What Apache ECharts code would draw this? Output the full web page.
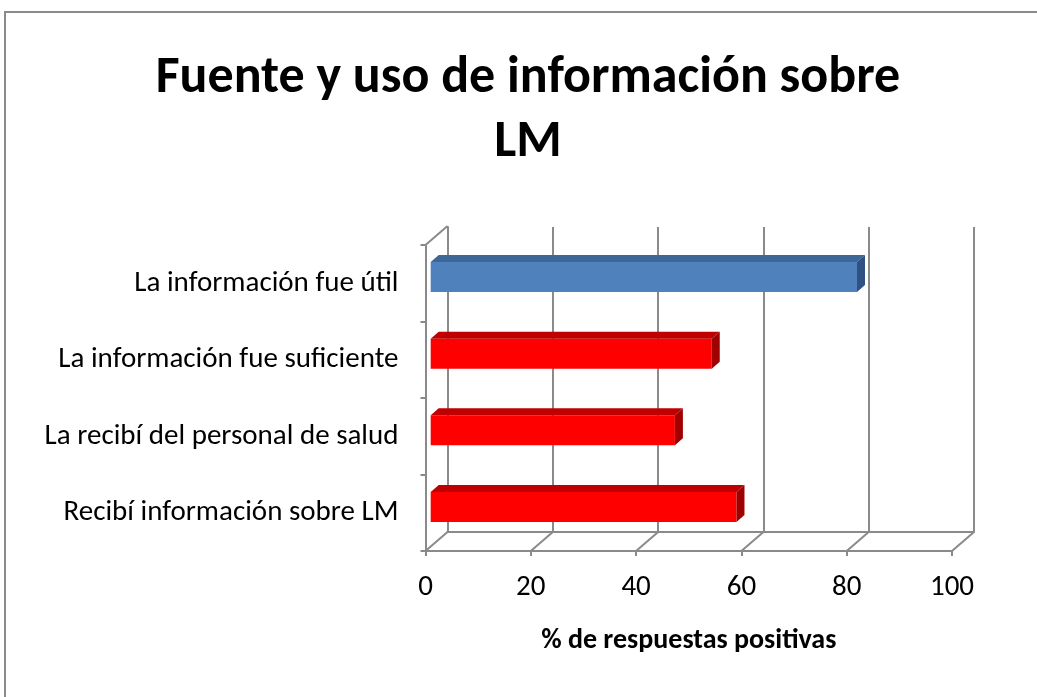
<!DOCTYPE html>
<html>
<head>
<meta charset="utf-8">
<title>Fuente y uso de información sobre LM</title>
<script src="https://cdn.jsdelivr.net/npm/echarts@6/dist/echarts.min.js"></script>
<style>
  html, body { margin: 0; padding: 0; background: #fff; }
  #chart { width: 1037px; height: 697px; }
</style>
</head>
<body>
<div id="chart"></div>
<script>
// data
const categories = [
  'La información fue útil',
  'La información fue suficiente',
  'La recibí del personal de salud',
  'Recibí información sobre LM'
];
const values = [81, 53.4, 46.4, 58.1];
const ticks = [0, 20, 40, 60, 80, 100];

const font = "'Carlito','Liberation Sans Narrow','DejaVu Sans Condensed','Open Sans',sans-serif";
const gray = '#8a8a8a';
const depth = [22, -19];      // perspective offset of the back wall
const barDepth = [8, -7];     // depth of the bars themselves

const chart = echarts.init(document.getElementById('chart'));

// floor / wall connectors: every tick at the floor plus the top-left corner
const connectors = ticks.map(t => [t, 0]).concat([[0, 1]]);

chart.setOption({
  animation: false,
  title: {
    text: 'Fuente y uso de información sobre\nLM',
    left: 523,
    top: 42,
    textAlign: 'center',
    textStyle: { fontFamily: font, fontWeight: 'bold', fontSize: 52, lineHeight: 64, color: '#000' }
  },
  graphic: [{
    type: 'rect',
    shape: { x: 5, y: 12, width: 1060, height: 720 },
    style: { fill: null, stroke: gray, lineWidth: 2 },
    silent: true
  }],
  grid: [
    { left: 425.5, top: 245, width: 526.5, height: 306 },   // front plane
    { left: 447.5, top: 227, width: 526.5, height: 305 },   // back wall
    { left: 425.5, top: 245, width: 526.5, height: 306 },   // connectors
    { left: 430.7, top: 238.7, width: 526.3, height: 306.6 } // bars
  ],
  xAxis: [
    {
      gridIndex: 0, type: 'value', min: 0, max: 100, interval: 20,
      axisLine: { show: true, lineStyle: { color: gray, width: 2 } },
      axisTick: { show: true, length: 5, lineStyle: { color: gray, width: 2 } },
      axisLabel: { fontFamily: font, fontSize: 29, color: '#000', margin: 22 },
      splitLine: { show: false },
      name: '% de respuestas positivas',
      nameLocation: 'middle',
      nameGap: 76,
      nameTextStyle: { fontFamily: font, fontWeight: 'bold', fontSize: 28, color: '#000' }
    },
    {
      gridIndex: 1, type: 'value', min: 0, max: 100, interval: 20,
      axisLine: { show: true, lineStyle: { color: gray, width: 2 } },
      axisTick: { show: false }, axisLabel: { show: false },
      splitLine: { show: true, lineStyle: { color: gray, width: 2 } }
    },
    { gridIndex: 2, type: 'value', min: 0, max: 100, show: false },
    { gridIndex: 3, type: 'value', min: 0, max: 100, show: false }
  ],
  yAxis: [
    {
      gridIndex: 0, type: 'category', data: categories, inverse: true,
      axisLine: { show: true, lineStyle: { color: gray, width: 2 } },
      axisTick: { show: true, length: 5, lineStyle: { color: gray, width: 2 } },
      axisLabel: { fontFamily: font, fontSize: 29, color: '#000', margin: 27, padding: [7, 0, 0, 0] }
    },
    {
      gridIndex: 1, type: 'value', min: 0, max: 1,
      axisLine: { show: true, lineStyle: { color: gray, width: 2 } },
      axisTick: { show: false }, axisLabel: { show: false }, splitLine: { show: false }
    },
    { gridIndex: 2, type: 'value', min: 0, max: 1, show: false },
    { gridIndex: 3, type: 'category', data: categories, inverse: true, show: false }
  ],
  series: [
    {
      type: 'custom',
      xAxisIndex: 2, yAxisIndex: 2,
      silent: true,
      data: connectors,
      renderItem: (params, api) => {
        const p = api.coord([api.value(0), api.value(1)]);
        return {
          type: 'line',
          shape: { x1: p[0], y1: p[1], x2: p[0] + depth[0], y2: p[1] + depth[1] },
          style: { stroke: gray, lineWidth: 2 }
        };
      }
    },
    {
      type: 'custom',
      xAxisIndex: 3, yAxisIndex: 3,
      data: values.map((v, i) => [v, i]),
      renderItem: (params, api) => {
        const i = api.value(1);
        const s = api.coord([0, i]);
        const e = api.coord([api.value(0), i]);
        const h = 30;
        const top = s[1] - h / 2, bot = s[1] + h / 2;
        const blue = params.dataIndex === 0;
        const front = blue ? '#4f81bd' : '#ff0000';
        const upper = blue ? '#3d6797' : '#c00000';
        const side = blue ? '#2f5282' : '#a00000';
        const dx = barDepth[0], dy = barDepth[1];
        return {
          type: 'group',
          children: [
            { type: 'rect', shape: { x: s[0], y: top, width: e[0] - s[0], height: h }, style: { fill: front } },
            { type: 'polygon', shape: { points: [[s[0], top], [s[0] + dx, top + dy], [e[0] + dx, top + dy], [e[0], top]] }, style: { fill: upper } },
            { type: 'polygon', shape: { points: [[e[0], top], [e[0] + dx, top + dy], [e[0] + dx, bot + dy], [e[0], bot]] }, style: { fill: side } }
          ]
        };
      }
    }
  ]
});
</script>
</body>
</html>
